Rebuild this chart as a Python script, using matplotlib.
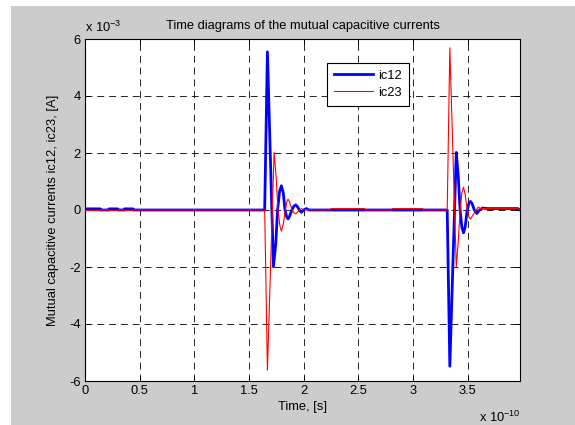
import matplotlib
matplotlib.use("Agg")
import matplotlib.pyplot as plt
from matplotlib.patches import Rectangle

plt.rcParams['font.family'] = ['Liberation Sans', 'DejaVu Sans']
plt.rcParams['mathtext.fontset'] = 'custom'
plt.rcParams['mathtext.rm'] = 'Liberation Sans'
plt.rcParams['mathtext.it'] = 'Liberation Sans'
plt.rcParams['lines.scale_dashes'] = False

# time in units of 1e-10 s, currents in units of 1e-3 A
ic12_time = [0.00, 0.14, 0.14, 0.22, 0.22, 0.30, 0.30, 0.36, 0.36, 0.44, 0.44,
             1.644, 1.669, 1.724, 1.745, 1.762, 1.780, 1.797, 1.814, 1.830, 1.845,
             1.858, 1.872, 1.893, 1.912, 1.928, 1.945, 1.960, 1.980, 2.000, 2.025,
             2.050, 3.314, 3.338, 3.397, 3.415, 3.432, 3.448, 3.463, 3.478, 3.497,
             3.513, 3.527, 3.542, 3.562, 3.585, 3.610, 3.640, 3.680, 3.960, 3.980]
ic12_value = [0.04, 0.04, 0.00, 0.00, 0.04, 0.04, 0.00, 0.00, 0.04, 0.04, 0.00,
              0.00, 5.55, -1.99, -1.20, 0.00, 0.65, 0.85, 0.60, 0.00, -0.24,
              -0.31, -0.22, 0.00, 0.14, 0.18, 0.11, 0.00, -0.08, 0.00, 0.05,
              0.00, 0.00, -5.48, 2.02, 1.20, 0.00, -0.60, -0.80, -0.60, 0.00,
              0.24, 0.30, 0.22, 0.00, -0.12, 0.00, 0.07, 0.05, 0.05, 0.00]

ic23_time = [0.00, 0.14, 0.14, 0.22, 0.22, 0.30, 0.30, 0.36, 0.36, 0.44, 0.44,
             1.644, 1.669, 1.730, 1.750, 1.765, 1.783, 1.797, 1.814, 1.833, 1.847,
             1.858, 1.872, 1.895, 1.912, 1.928, 1.945, 1.960, 1.980, 2.000, 2.030,
             2.060, 2.250, 2.250, 2.560, 2.560, 2.810, 2.810, 3.090, 3.090,
             3.314, 3.338, 3.397, 3.415, 3.432, 3.448, 3.463, 3.478, 3.497,
             3.513, 3.527, 3.542, 3.580, 3.598, 3.620, 3.660, 3.960, 3.980]
ic23_value = [-0.02, -0.02, 0.00, 0.00, -0.02, -0.02, 0.00, 0.00, -0.02, -0.02, 0.00,
              0.00, -5.62, 2.02, 1.10, 0.00, -0.55, -0.74, -0.50, 0.00, 0.30,
              0.38, 0.28, 0.00, -0.10, -0.14, -0.08, 0.00, 0.05, 0.00, 0.02,
              0.00, 0.00, 0.05, 0.05, 0.00, 0.00, 0.05, 0.05, 0.00,
              0.00, 5.69, -1.99, -1.10, 0.00, 0.60, 0.80, 0.55, 0.00,
              -0.25, -0.32, -0.22, 0.00, 0.10, 0.05, 0.05, 0.05, 0.00]

x_ticks = [0, 0.5, 1, 1.5, 2, 2.5, 3, 3.5]
x_tick_labels = ['0', '0.5', '1', '1.5', '2', '2.5', '3', '3.5']
y_ticks = [-6, -4, -2, 0, 2, 4, 6]
y_tick_labels = ['-6', '-4', '-2', '0', '2', '4', '6']

FS = 9.3
W, H = 575, 425
fig = plt.figure(figsize=(W / 100, H / 100), dpi=100, facecolor='#cccccc')
# white strips of the screenshot border
fig.patches.append(Rectangle((0, 0), 11 / W, 1, transform=fig.transFigure,
                             facecolor='white', edgecolor='none', zorder=-10))
fig.patches.append(Rectangle((0, 1 - 6 / H), 1, 6 / H, transform=fig.transFigure,
                             facecolor='white', edgecolor='none', zorder=-10))

ax = fig.add_axes([85 / W, 1 - 381 / H, 435 / W, 342 / H])
ax.set_facecolor('white')

ax.plot(ic12_time, ic12_value, color='#0000ff', lw=2.0, label='ic12', zorder=3)
ax.plot(ic23_time, ic23_value, color='#ff0000', lw=0.8, label='ic23', zorder=4)

ax.set_xlim(0, 3.98)
ax.set_ylim(-6, 6)
ax.set_xticks(x_ticks)
ax.set_xticklabels(x_tick_labels)
ax.set_yticks(y_ticks)
ax.set_yticklabels(y_tick_labels)
ax.tick_params(direction='in', length=3.6, width=0.7, top=True, right=True,
               labelsize=FS, colors='black', pad=3)
for s in ax.spines.values():
    s.set_linewidth(0.8)
    s.set_color('black')
ax.grid(True, color='black', linestyle=(0, (5, 3.5)), linewidth=0.6)
ax.set_axisbelow(False)

ax.set_title('Time diagrams of the mutual capacitive currents', fontsize=FS, pad=7)
ax.set_xlabel('Time, [s]', fontsize=FS, labelpad=3)
ax.set_ylabel('Mutual capacitive currents ic12, ic23, [A]', fontsize=FS, labelpad=7)

fig.text(85 / W, 1 - 32 / H, r'x 10$^{-3}$', ha='left', va='baseline', fontsize=FS)
fig.text(520 / W, 1 - 422 / H, r'x 10$^{-10}$', ha='right', va='baseline', fontsize=FS)

leg = ax.legend(loc='upper left', bbox_to_anchor=((327 - 85) / 435, (381 - 62.5) / 342),
                borderaxespad=0, fontsize=FS, fancybox=False, framealpha=1,
                edgecolor='black', handlelength=3.0, handletextpad=0.4,
                borderpad=0.55, labelspacing=0.4)
leg.get_frame().set_linewidth(0.8)

fig.savefig('out.png', dpi=100, facecolor=fig.get_facecolor())
